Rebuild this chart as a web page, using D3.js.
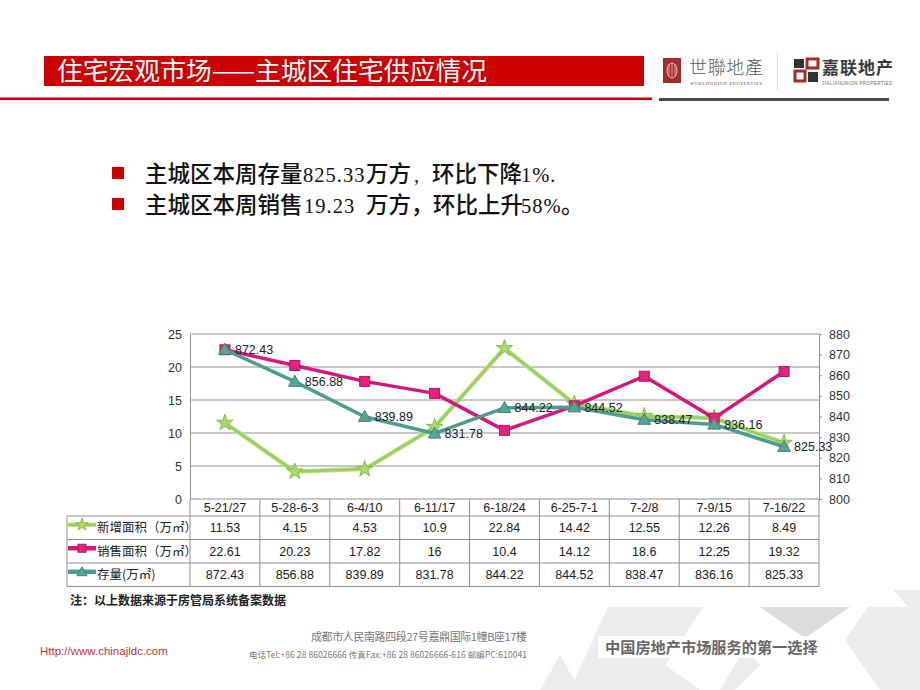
<!DOCTYPE html>
<html><head><meta charset="utf-8">
<script src="https://cdn.jsdelivr.net/npm/d3@7"></script>
<style>body{margin:0;background:#fff}svg{display:block}</style>
</head><body>
<svg id="c" width="920" height="690"></svg>
<script>
const categories = ["5-21/27","5-28-6-3","6-4/10","6-11/17","6-18/24","6-25-7-1","7-2/8","7-9/15","7-16/22"];
const newSupply = [11.53,4.15,4.53,10.9,22.84,14.42,12.55,12.26,8.49];
const sales = [22.61,20.23,17.82,16,10.4,14.12,18.6,12.25,19.32];
const stock = [872.43,856.88,839.89,831.78,844.22,844.52,838.47,836.16,825.33];
const stockLabels = ["872.43","856.88","839.89","831.78","844.22","844.52","838.47","836.16","825.33"];
const newSupplyLabels = ["11.53","4.15","4.53","10.9","22.84","14.42","12.55","12.26","8.49"];
const salesLabels = ["22.61","20.23","17.82","16","10.4","14.12","18.6","12.25","19.32"];
const seriesNames = ["新增面积（万㎡）","销售面积（万㎡）","存量(万㎡)"];
const leftTicks = [0,5,10,15,20,25];
const rightTicks = [800,810,820,830,840,850,860,870,880];
const titleText = "住宅宏观市场——主城区住宅供应情况";
const noteText = "注：以上数据来源于房管局系统备案数据";

const svg = d3.select("#c");
const CJK = "'Noto Sans CJK SC','Noto Sans',sans-serif";
const LAT = "'Liberation Sans',Arial,sans-serif";
const SER = "'Liberation Serif',serif";

svg.append("rect").attr("width",920).attr("height",690).attr("fill","#fff");

// ---- header ----
svg.append("rect").attr("x",44).attr("y",56).attr("width",600).attr("height",30).attr("fill","#CC0000");
svg.append("text").attr("x",57).attr("y",80).attr("fill","#fff").attr("font-family",CJK)
  .attr("font-size",25).attr("textLength",430).attr("lengthAdjust","spacingAndGlyphs").text(titleText);
svg.append("rect").attr("x",0).attr("y",97.5).attr("width",652).attr("height",2.5).attr("fill","#CC0000");
svg.append("rect").attr("x",659).attr("y",98).attr("width",230).attr("height",3).attr("fill","#4d4d4d");

// logos
const lg = svg.append("g");
lg.append("rect").attr("x",663).attr("y",58).attr("width",18).attr("height",25).attr("fill","#A52A2A");
lg.append("ellipse").attr("cx",672).attr("cy",70.5).attr("rx",5).attr("ry",7.5).attr("fill","none").attr("stroke","#f0c8c8").attr("stroke-width",1);
[669,672,675].forEach(x=>lg.append("line").attr("x1",x).attr("x2",x).attr("y1",64).attr("y2",77).attr("stroke","#f0c8c8").attr("stroke-width",0.8));
lg.append("text").attr("x",689).attr("y",74).attr("font-family","'Noto Sans CJK TC',sans-serif").attr("font-weight",300)
  .attr("font-size",18).attr("fill","#5a5a5a").attr("textLength",74).text("世聯地產");
lg.append("text").attr("x",690).attr("y",85).attr("font-family",SER).attr("font-size",4.5)
  .attr("fill","#555").attr("textLength",72).text("WORLDUNION PROPERTIES");
lg.append("line").attr("x1",777.5).attr("x2",777.5).attr("y1",52).attr("y2",90).attr("stroke","#ddd");
lg.append("rect").attr("x",794).attr("y",59).attr("width",10).attr("height",9).attr("fill","#333");
lg.append("rect").attr("x",807).attr("y",59).attr("width",11).attr("height",9).attr("fill","none").attr("stroke","#A52A2A").attr("stroke-width",3);
lg.append("rect").attr("x",795).attr("y",71).attr("width",10).attr("height",10).attr("fill","none").attr("stroke","#A52A2A").attr("stroke-width",3);
lg.append("rect").attr("x",808).attr("y",72).attr("width",10).attr("height",10).attr("fill","#333");
lg.append("text").attr("x",822).attr("y",74).attr("font-family",CJK).attr("font-weight",700)
  .attr("font-size",17).attr("fill","#3a3a3a").attr("textLength",71).text("嘉联地产");
lg.append("text").attr("x",822).attr("y",85).attr("font-family",LAT).attr("font-size",4.5)
  .attr("fill","#666").attr("textLength",70).text("JIALIANUNION PROPERTIES");

// ---- bullets ----
function bullet(y, parts){
  svg.append("rect").attr("x",112).attr("y",y-15).attr("width",12).attr("height",12).attr("fill","#CC0000");
  const t = svg.append("text").attr("y",y).attr("fill","#111");
  parts.forEach(p=>{
    const [txt, mono, x0] = p;
    t.append("tspan").attr("x",x0).attr("font-family", mono ? SER : CJK)
      .attr("letter-spacing", mono ? 1 : 0)
      .attr("font-size", mono ? 20.5 : 22.5).attr("font-weight", mono ? 400 : 500).text(txt);
  });
}
bullet(182, [["主城区本周存量",0,145],["825.33",1,303],["万方",0,366],[",",1,414],["环比下降",0,432],["1%.",1,521]]);
bullet(213, [["主城区本周销售",0,145],["19.23",1,304],["万方，",0,366],["环比上升",0,433],["58%",1,521],["。",0,561]]);

// ---- chart ----
const x = d3.scaleBand().domain(categories).range([190,819]);
const yL = d3.scaleLinear().domain([0,25]).range([499,334]);
const yR = d3.scaleLinear().domain([800,880]).range([499,334]);
const cx = c => x(c) + x.bandwidth()/2;

const g = svg.append("g");
g.selectAll(".grid").data(leftTicks).join("line")
  .attr("x1",190).attr("x2",819).attr("y1",d=>yL(d)).attr("y2",d=>yL(d))
  .attr("stroke","#8f8f8f").attr("stroke-width",1);

const axL = g.append("g").attr("transform","translate(190,0)")
  .call(d3.axisLeft(yL).tickValues(leftTicks).tickSize(0).tickPadding(8).tickSizeOuter(0));
axL.select(".domain").attr("stroke","#8f8f8f");
axL.selectAll("text").attr("font-family",LAT).attr("font-size",12.5).attr("fill","#333");

const axR = g.append("g").attr("transform","translate(819,0)")
  .call(d3.axisRight(yR).tickValues(rightTicks).tickSize(3).tickPadding(7).tickSizeOuter(0));
axR.select(".domain").attr("stroke","#8f8f8f");
axR.selectAll(".tick line").attr("stroke","#8f8f8f");
axR.selectAll("text").attr("font-family",LAT).attr("font-size",12.5).attr("fill","#333");

const colors = {green:"#9ACF5C", magenta:"#D9177B", teal:"#4E9C8C"};
const line = (ys, scale) => d3.line().x((d,i)=>cx(categories[i])).y(d=>scale(d))(ys);

// green
g.append("path").attr("d",line(newSupply,yL)).attr("fill","none").attr("stroke","#B8E48A").attr("stroke-width",4.5).attr("stroke-linejoin","round");
g.append("path").attr("d",line(newSupply,yL)).attr("fill","none").attr("stroke",colors.green).attr("stroke-width",2.5).attr("stroke-linejoin","round");
const star = d3.symbol().type(d3.symbolStar).size(85);
g.selectAll(".gm").data(newSupply).join("path")
  .attr("transform",(d,i)=>`translate(${cx(categories[i])},${yL(d)})`)
  .attr("d",star).attr("fill","#A8DA6E").attr("stroke","#86BF48").attr("stroke-width",1);

// magenta
g.append("path").attr("d",line(sales,yL)).attr("fill","none").attr("stroke",colors.magenta).attr("stroke-width",3.5).attr("stroke-linejoin","round");
g.selectAll(".mm").data(sales).join("rect")
  .attr("x",(d,i)=>cx(categories[i])-5).attr("y",d=>yL(d)-5).attr("width",10).attr("height",10)
  .attr("fill","#E2237F").attr("stroke","#B5146A").attr("stroke-width",1);

// teal
g.append("path").attr("d",line(stock,yR)).attr("fill","none").attr("stroke",colors.teal).attr("stroke-width",3.5).attr("stroke-linejoin","round");
const tri = d3.symbol().type(d3.symbolTriangle).size(70);
g.selectAll(".tm").data(stock).join("path")
  .attr("transform",(d,i)=>`translate(${cx(categories[i])},${yR(d)+1})`)
  .attr("d",tri).attr("fill","#56A596").attr("stroke","#3E8577").attr("stroke-width",1);
g.selectAll(".tl").data(stock).join("text")
  .attr("x",(d,i)=>cx(categories[i])+10).attr("y",d=>yR(d)).attr("dy","0.35em")
  .attr("font-family",LAT).attr("font-size",12.5).attr("fill","#222")
  .text((d,i)=>stockLabels[i]);

// ---- table ----
const rowsY = [499,516,539.5,563,586.5];
const tg = svg.append("g").attr("stroke","#8f8f8f").attr("stroke-width",1);
[1,2,3,4].forEach(r=>tg.append("line").attr("x1",67).attr("x2",819).attr("y1",rowsY[r]).attr("y2",rowsY[r]));
tg.append("line").attr("x1",67).attr("x2",67).attr("y1",516).attr("y2",586.5);
categories.forEach(c=>tg.append("line").attr("x1",x(c)).attr("x2",x(c)).attr("y1",499).attr("y2",586.5));
tg.append("line").attr("x1",819).attr("x2",819).attr("y1",499).attr("y2",586.5);

svg.selectAll(".hd").data(categories).join("text")
  .attr("x",d=>cx(d)).attr("y",(rowsY[0]+rowsY[1])/2).attr("dy","0.36em").attr("text-anchor","middle")
  .attr("font-family",LAT).attr("font-size",12.5).attr("fill","#222").text(d=>d);

const rowData = [newSupplyLabels, salesLabels, stockLabels];
rowData.forEach((arr,r)=>{
  const yc = (rowsY[r+1]+rowsY[r+2])/2;
  svg.selectAll(".v"+r).data(arr).join("text")
    .attr("x",(d,i)=>cx(categories[i])).attr("y",yc).attr("dy","0.36em").attr("text-anchor","middle")
    .attr("font-family",LAT).attr("font-size",12.5).attr("fill","#222").text(d=>d);
});

// legend keys
const keyCols = [[colors.green,"#B8E48A"],[colors.magenta,colors.magenta],[colors.teal,colors.teal]];
seriesNames.forEach((nm,r)=>{
  const yc = (rowsY[r+1]+rowsY[r+2])/2 - 3;
  svg.append("line").attr("x1",68).attr("x2",96).attr("y1",yc).attr("y2",yc).attr("stroke",keyCols[r][1]).attr("stroke-width",4.5);
  svg.append("line").attr("x1",68).attr("x2",96).attr("y1",yc).attr("y2",yc).attr("stroke",keyCols[r][0]).attr("stroke-width",2.5);
  if(r===0) svg.append("path").attr("transform",`translate(82,${yc})`).attr("d",d3.symbol().type(d3.symbolStar).size(50)).attr("fill","#A8DA6E").attr("stroke","#86BF48");
  if(r===1) svg.append("rect").attr("x",78).attr("y",yc-4).attr("width",8).attr("height",8).attr("fill","#E2237F").attr("stroke","#B5146A");
  if(r===2) svg.append("path").attr("transform",`translate(82,${yc+1})`).attr("d",d3.symbol().type(d3.symbolTriangle).size(45)).attr("fill","#56A596").attr("stroke","#3E8577");
  svg.append("text").attr("x",97).attr("y",yc+3).attr("dy","0.36em").attr("font-family",CJK).attr("font-size",12.5).attr("fill","#222").text(nm);
});

svg.append("text").attr("x",70).attr("y",605).attr("font-family",CJK).attr("font-weight",700).attr("font-size",12)
  .attr("fill","#222").text(noteText);

// ---- footer ----
const fg = svg.append("g");
const polys = [
  [[570,690],[608,607],[703,607],[665,665],[700,690]],
  [[720,690],[745,648],[760,665],[735,690]],
  [[760,607],[850,607],[805,638]],
  [[868,607],[920,607],[920,690],[880,690],[845,640]],
  [[540,690],[560,655],[580,690]],
  [[893,590],[920,590],[920,620]]
];
fg.selectAll("polygon").data(polys).join("polygon")
  .attr("points",d=>d.map(p=>p.join(",")).join(" "))
  .attr("fill",(d,i)=>i===2?"#dcdcdc":"#ededed");
fg.append("rect").attr("x",598).attr("y",636).attr("width",229).attr("height",22).attr("fill","#fff");
fg.append("text").attr("x",605).attr("y",653).attr("font-family",CJK).attr("font-weight",700).attr("font-size",15.2)
  .attr("fill","#666").text("中国房地产市场服务的第一选择");

fg.append("text").attr("x",40).attr("y",655).attr("font-family",LAT).attr("font-size",11.5).attr("fill","#D03030")
  .text("Http://www.chinajldc.com");
fg.append("text").attr("x",527).attr("y",641).attr("text-anchor","end").attr("font-family",CJK).attr("font-size",11)
  .attr("fill","#777").attr("textLength",216).text("成都市人民南路四段27号嘉鼎国际1幢B座17楼");
fg.append("text").attr("x",527).attr("y",658).attr("text-anchor","end").attr("font-family",CJK).attr("font-size",8.5)
  .attr("fill","#777").attr("textLength",278).text("电话Tel:+86 28 86026666  传真Fax:+86 28 86026666-616  邮编PC:610041");
</script>
</body></html>
